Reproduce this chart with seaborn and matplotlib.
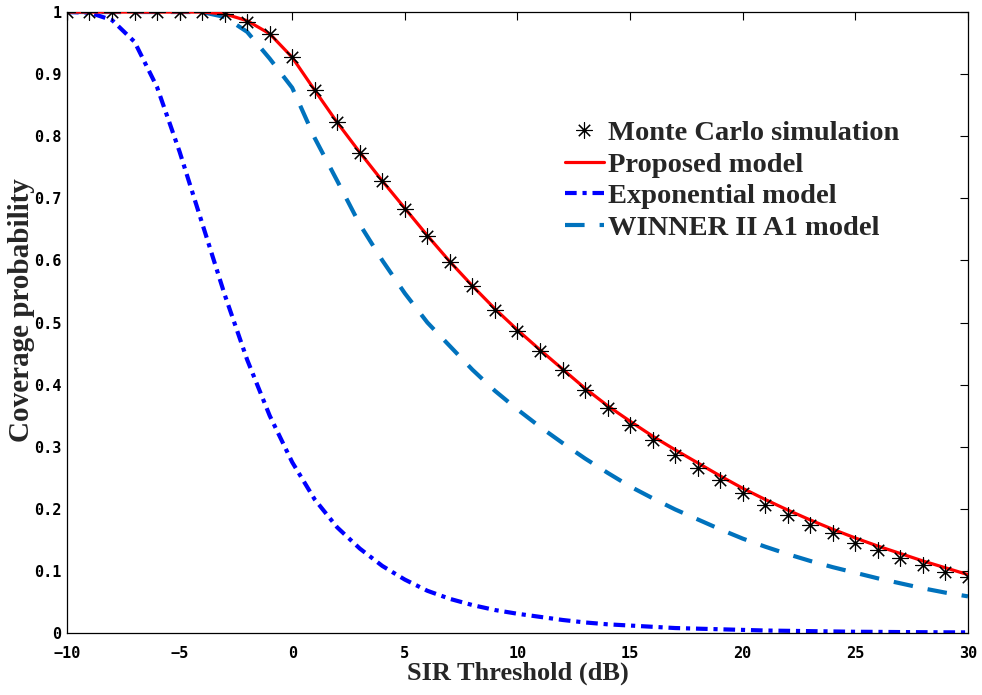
import numpy as np
import pandas as pd
import matplotlib
matplotlib.use("Agg")
import matplotlib.pyplot as plt
import seaborn as sns

# SIR threshold grid (dB)
sir_db = list(range(-10, 31))

# Monte Carlo simulation results
mc_prob = [1.0, 1.0, 1.0, 1.0, 1.0, 1.0, 1.0, 0.997, 0.984, 0.965,
           0.927, 0.874, 0.823, 0.773, 0.728, 0.683, 0.639, 0.597, 0.559, 0.520,
           0.486, 0.454, 0.424, 0.391, 0.362, 0.335, 0.311, 0.287, 0.266, 0.246,
           0.225, 0.206, 0.190, 0.174, 0.161, 0.145, 0.134, 0.121, 0.110, 0.098,
           0.090]

# Analytical coverage of the proposed model
proposed_prob = [1.0, 1.0, 1.0, 1.0, 1.0, 1.0, 1.0, 0.997, 0.986, 0.965,
                 0.927, 0.874, 0.822, 0.774, 0.728, 0.684, 0.640, 0.598, 0.559, 0.522,
                 0.488, 0.456, 0.425, 0.394, 0.366, 0.341, 0.317, 0.295, 0.274, 0.253,
                 0.233, 0.215, 0.198, 0.182, 0.167, 0.153, 0.140, 0.128, 0.116, 0.105,
                 0.094]

# Exponential path-loss model
exp_prob = [1.0, 0.999, 0.987, 0.952, 0.879, 0.775, 0.660, 0.545, 0.440, 0.350,
            0.275, 0.215, 0.170, 0.136, 0.108, 0.086, 0.068, 0.055, 0.045, 0.037,
            0.031, 0.026, 0.021, 0.017, 0.014, 0.012, 0.010, 0.008, 0.007, 0.006,
            0.005, 0.004, 0.0035, 0.003, 0.0025, 0.002, 0.0018, 0.0015, 0.0013, 0.0011,
            0.001]

# WINNER II A1 channel model
winner_prob = [1.0, 1.0, 1.0, 1.0, 1.0, 1.0, 1.0, 0.992, 0.968, 0.925,
               0.878, 0.797, 0.728, 0.658, 0.600, 0.547, 0.500, 0.462, 0.424, 0.390,
               0.360, 0.332, 0.306, 0.281, 0.258, 0.236, 0.217, 0.199, 0.183, 0.167,
               0.152, 0.139, 0.127, 0.116, 0.106, 0.097, 0.088, 0.080, 0.072, 0.065,
               0.059]

df = pd.DataFrame({
    "sir": sir_db,
    "mc": mc_prob,
    "proposed": proposed_prob,
    "exp": exp_prob,
    "winner": winner_prob,
})

sns.set_style("white")
plt.rcParams["font.family"] = ["DejaVu Sans"]

fig = plt.figure(figsize=(9.82, 6.95), dpi=100)
ax = fig.add_axes([0.0682, 0.0892, 0.9175, 0.8935])

asterisk = (8, 2, 0)
sns.lineplot(data=df, x="sir", y="mc", ax=ax, linestyle="none",
             marker=asterisk, markersize=11.5, markeredgewidth=0.8,
             markeredgecolor="black", markerfacecolor="black",
             color="black", label="Monte Carlo simulation", zorder=4)
sns.lineplot(data=df, x="sir", y="proposed", ax=ax, color="#ff0000",
             linewidth=2.3, label="Proposed model", zorder=3)
sns.lineplot(data=df, x="sir", y="exp", ax=ax, color="#0000ff",
             linewidth=3.0, label="Exponential model", zorder=2)
sns.lineplot(data=df, x="sir", y="winner", ax=ax, color="#0072bd",
             linewidth=3.0, label="WINNER II A1 model", zorder=2)

lines = ax.get_lines()
lines[2].set_dashes((2.8, 1.4, 1.0, 1.4))
lines[3].set_dashes((4.7, 3.6))

ax.set_xlim(-10, 30)
ax.set_ylim(0, 1)
ax.set_xticks([-10, -5, 0, 5, 10, 15, 20, 25, 30])
ax.set_yticks([0, 0.1, 0.2, 0.3, 0.4, 0.5, 0.6, 0.7, 0.8, 0.9, 1])
ax.set_yticklabels(["0", "0.1", "0.2", "0.3", "0.4", "0.5", "0.6", "0.7",
                    "0.8", "0.9", "1"])
ax.set_xticklabels(["\u221210", "\u22125", "0", "5", "10", "15", "20", "25", "30"])

ax.tick_params(direction="in", length=6, width=0.8, top=True, right=True,
               labelsize=11, colors="black")
ax.tick_params(axis="x", pad=9)
ax.tick_params(axis="y", pad=4)
for lab in ax.get_xticklabels() + ax.get_yticklabels():
    lab.set_fontfamily("DejaVu Sans Mono")
    lab.set_fontweight("bold")

for s in ax.spines.values():
    s.set_color("black")
    s.set_linewidth(0.9)

ax.set_xlabel("SIR Threshold (dB)",
              fontdict=dict(family="Liberation Serif", weight="bold", size=19),
              labelpad=1)
ax.set_ylabel("Coverage probability",
              fontdict=dict(family="Liberation Serif", weight="bold", size=21))
ax.yaxis.set_label_coords(-0.035, 0.52)

leg = ax.legend(loc="upper left", bbox_to_anchor=(0.553, 0.826), frameon=False,
                prop=dict(family="Liberation Serif", weight="bold", size=20.5),
                handlelength=1.35, handletextpad=0.15, labelspacing=0.2,
                borderaxespad=0.0, borderpad=0.0)

fig.savefig("out.png", dpi=100, facecolor="white")
